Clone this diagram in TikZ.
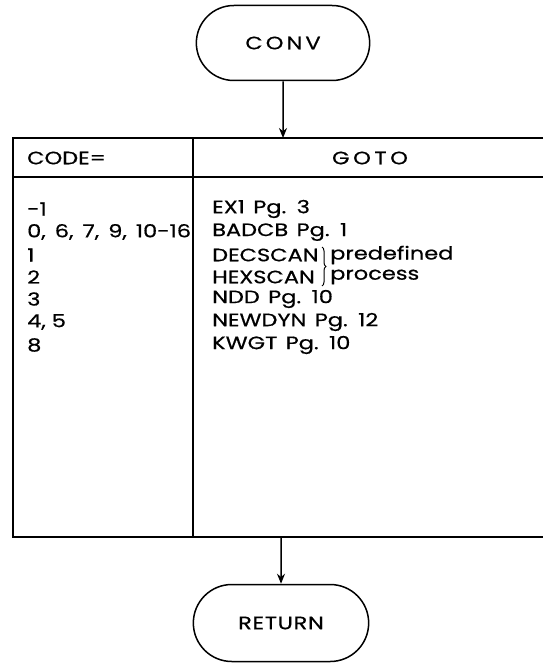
\documentclass[tikz,border=0pt]{standalone}
\usepackage{fontspec}
\setmainfont{Poppins}[FakeStretch=1.25,FakeBold=0.6,WordSpace=1.4]
\usetikzlibrary{shapes.misc,arrows.meta,decorations.pathreplacing}
\newcommand{\cm}{,\hspace{6pt}}
\newcommand{\cmw}{,\hspace{9pt}}
\begin{document}
\begin{tikzpicture}[x=1pt,y=1pt,
  term/.style={draw,line width=1.5pt,rounded rectangle,minimum width=180pt,minimum height=75pt,font=\fontsize{18}{22}\selectfont},
  txt/.style={anchor=west,inner sep=0pt,font=\fontsize{18}{22}\selectfont},
  tline/.style={line width=2pt},
  arr/.style={line width=1.5pt,-{Stealth[length=10pt,width=8pt]}}]
\useasboundingbox (0,0) rectangle (543,-663);
\node[term,font=\fontsize{18}{22}\selectfont\addfontfeature{LetterSpace=17}] (conv) at (283,-43) {CONV};
\node[term,minimum width=182pt,minimum height=77pt,font=\fontsize{18}{22}\selectfont\addfontfeature{LetterSpace=4}] (ret) at (281,-623) {RETURN};
% table
\coordinate (tl) at (13,-138);
\coordinate (tr) at (543,-138);
\coordinate (bl) at (13,-537);
\coordinate (br) at (543,-537);
\coordinate (hl) at (13,-177);
\coordinate (hr) at (543,-177);
\coordinate (dt) at (193,-138);
\coordinate (db) at (193,-537);
\draw[tline] (tr) -- (tl) -- (bl) -- (br);
\draw[tline] (hl) -- (hr);
\draw[tline] (dt) -- (db);
\coordinate (tin) at (283,-138);
\coordinate (tout) at (281,-537);
\draw[arr] (conv) -- (tin);
\draw[arr] (tout) -- (ret);
% header
\node[txt] (h1) at (27,-158) {CODE=};
\node[font=\fontsize{18}{22}\selectfont\addfontfeature{LetterSpace=20},inner sep=0pt] (h2) at (370,-158) {GOTO};
% rows
\node[txt] (c1) at (27,-209) {-1};
\node[txt] (c2) at (27,-232) {0\cmw 6\cmw 7\cmw 9\cmw 10-16};
\node[txt] (c3) at (27,-255) {1};
\node[txt] (c4) at (27,-277) {2};
\node[txt] (c5) at (27,-299) {3};
\node[txt] (c6) at (27,-322) {4\cm 5};
\node[txt] (c7) at (27,-345) {8};
\node[txt] (g1) at (212,-209) {EX1 Pg. 3};
\node[txt] (g2) at (212,-232) {BADCB Pg. 1};
\node[txt] (g3) at (212,-255) {DECSCAN};
\node[txt] (g4) at (212,-277) {HEXSCAN};
\node[txt] (g5) at (212,-299) {NDD Pg. 10};
\node[txt] (g6) at (212,-322) {NEWDYN Pg. 12};
\node[txt] (g7) at (212,-345) {KWGT Pg. 10};
\coordinate (bt) at (322,-247);
\coordinate (bb) at (322,-286);
\draw[line width=1pt,decorate,decoration={brace,amplitude=4pt}] (bt) -- (bb);
\node[txt] (p1) at (330,-255) {predefined};
\node[txt] (p2) at (330,-277) {process};
\end{tikzpicture}
\end{document}
